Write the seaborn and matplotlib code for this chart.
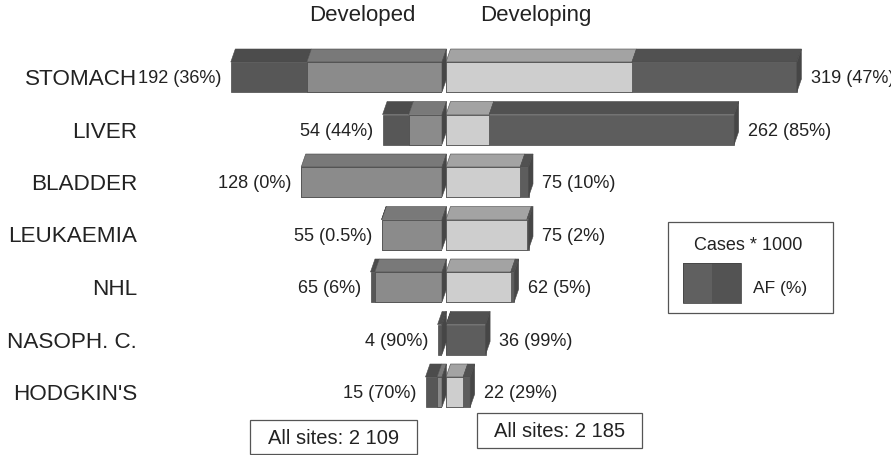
import matplotlib
matplotlib.use("Agg")
import matplotlib.pyplot as plt
from matplotlib.patches import Polygon, Rectangle
import pandas as pd
import seaborn as sns

# Cancer sites with cases (thousands) and attributable fraction (%)
sites = ["STOMACH", "LIVER", "BLADDER", "LEUKAEMIA", "NHL", "NASOPH. C.", "HODGKIN'S"]
developed_cases = [192, 54, 128, 55, 65, 4, 15]
developed_af = [36, 44, 0, 0.5, 6, 90, 70]
developing_cases = [319, 262, 75, 75, 62, 36, 22]
developing_af = [47, 85, 10, 2, 5, 99, 29]
group_titles = ["Developed", "Developing"]
total_labels = ["All sites: 2 109", "All sites: 2 185"]
legend_title = "Cases * 1000"
legend_label = "AF (%)"

sns.set_theme(style="white")
plt.rcParams["font.family"] = ["Liberation Sans", "DejaVu Sans"]
TEXT = "#222222"

# colours of the faces
DEV_AF_FRONT, DEV_AF_TOP = "#575757", "#4c4c4c"
DEV_REST_FRONT, DEV_REST_TOP = "#8b8b8b", "#797979"
DVG_REST_FRONT, DVG_REST_TOP = "#cecece", "#a3a3a3"
DVG_AF_FRONT, DVG_AF_TOP = "#5d5d5d", "#515151"
SIDE = "#464646"
EDGE = "#4a4a4a"

W, H = 891, 455
fig = plt.figure(figsize=(W / 100, H / 100), dpi=100)
fig.patch.set_facecolor("white")

PX = 1.1          # pixels per thousand cases
ROW = 52.5        # pixels between rows
Y0 = 77           # centre of the first row, from the top
BAR_H = 30 / ROW  # front-face height in row units
DX = 4.5 / PX     # oblique depth, horizontal (case units)
DY = 13 / ROW     # oblique depth, vertical (row units)

mid_l, mid_r, left_edge = 442, 446, 150
axL = fig.add_axes([left_edge / W, 0, (mid_l - left_edge) / W, 1])
axR = fig.add_axes([mid_r / W, 0, (W - mid_r) / W, 1])

dev = pd.DataFrame({"site": sites, "cases": developed_cases, "af": developed_af})
dvg = pd.DataFrame({"site": sites, "cases": developing_cases, "af": developing_af})
dev["neg_total"] = -dev["cases"]
dev["neg_rest"] = -dev["cases"] * (1 - dev["af"] / 100)
dvg["rest"] = dvg["cases"] * (1 - dvg["af"] / 100)

common = dict(y="site", orient="h", width=BAR_H, saturation=1, errorbar=None,
              edgecolor=EDGE, linewidth=0.5)
# left: whole bar in AF colour, the non-attributable part over it
sns.barplot(data=dev, x="neg_total", color=DEV_AF_FRONT, ax=axL, **common)
sns.barplot(data=dev, x="neg_rest", color=DEV_REST_FRONT, ax=axL, **common)
# right: whole bar in AF colour, the non-attributable part over it
sns.barplot(data=dvg, x="cases", color=DVG_AF_FRONT, ax=axR, **common)
sns.barplot(data=dvg, x="rest", color=DVG_REST_FRONT, ax=axR, **common)


def add_depth(ax, i, segments, tops):
    yt = i - BAR_H / 2
    yb = i + BAR_H / 2
    for (a, b), c in zip(segments, tops):
        if b - a <= 0:
            continue
        ax.add_patch(Polygon([(a, yt), (a + DX, yt - DY), (b + DX, yt - DY), (b, yt)],
                             closed=True, fc=c, ec=EDGE, lw=0.4, clip_on=False))
    xm = max(b for a, b in segments)
    ax.add_patch(Polygon([(xm, yt), (xm + DX, yt - DY), (xm + DX, yb - DY), (xm, yb)],
                         closed=True, fc=SIDE, ec=EDGE, lw=0.4, clip_on=False))


NUM_FS = 13.1
for i, r in dev.iterrows():
    add_depth(axL, i, [(r.neg_total, r.neg_rest), (r.neg_rest, 0)],
              [DEV_AF_TOP, DEV_REST_TOP])
    axL.text(r.neg_total - 8.5, i + 0.03, f"{r.cases:g} ({r.af:g}%)",
             ha="right", va="center", fontsize=NUM_FS, color=TEXT)

for i, r in dvg.iterrows():
    add_depth(axR, i, [(0, r.rest), (r.rest, r.cases)],
              [DVG_REST_TOP, DVG_AF_TOP])
    axR.text(r.cases + 12.5, i + 0.03, f"{r.cases:g} ({r.af:g}%)",
             ha="left", va="center", fontsize=NUM_FS, color=TEXT)

for ax in (axL, axR):
    ax.set_ylim((H - Y0) / ROW, -Y0 / ROW)
    ax.set_xlabel("")
    ax.set_ylabel("")
    ax.set_facecolor("none")
    for s in ax.spines.values():
        s.set_visible(False)
    ax.set_xticks([])

axL.set_xlim(-(mid_l - left_edge) / PX, 0)
axR.set_xlim(0, (W - mid_r) / PX)
axL.tick_params(axis="y", length=0, pad=9.2, labelsize=16.2, labelcolor=TEXT)
axR.set_yticks([])


def fx(px):
    return px / W


def fy(py):
    return 1 - py / H


fig.text(fx(362), fy(16), group_titles[0], ha="center", va="center",
         fontsize=16, color=TEXT)
fig.text(fx(536), fy(16), group_titles[1], ha="center", va="center",
         fontsize=16, color=TEXT)

# totals boxes
for (x0, y0, x1, y1), label in zip([(250, 420, 417, 454), (477, 413, 642, 448)],
                                   total_labels):
    fig.add_artist(Rectangle((fx(x0), fy(y1)), fx(x1 - x0), (y1 - y0) / H,
                             transform=fig.transFigure, fill=False,
                             ec="#555555", lw=0.9))
    fig.text(fx((x0 + x1) / 2), fy((y0 + y1) / 2 + 1), label, ha="center",
             va="center", fontsize=14.5, color=TEXT)

# legend box
fig.add_artist(Rectangle((fx(668), fy(313)), fx(833 - 668), (313 - 222) / H,
                         transform=fig.transFigure, fill=False, ec="#555555", lw=0.9))
fig.add_artist(Rectangle((fx(683), fy(303)), fx(712 - 683), (303 - 263) / H,
                         transform=fig.transFigure, fc="#606060", ec="none"))
fig.add_artist(Rectangle((fx(712), fy(303)), fx(741 - 712), (303 - 263) / H,
                         transform=fig.transFigure, fc="#535353", ec="none"))
fig.add_artist(Rectangle((fx(683), fy(303)), fx(741 - 683), (303 - 263) / H,
                         transform=fig.transFigure, fill=False, ec="#444444", lw=0.6))
fig.text(fx(748), fy(246), legend_title, ha="center", va="center",
         fontsize=13, color=TEXT)
fig.text(fx(753), fy(288), legend_label, ha="left", va="center",
         fontsize=12.5, color=TEXT)

fig.savefig("out.png", dpi=100, facecolor="white")
